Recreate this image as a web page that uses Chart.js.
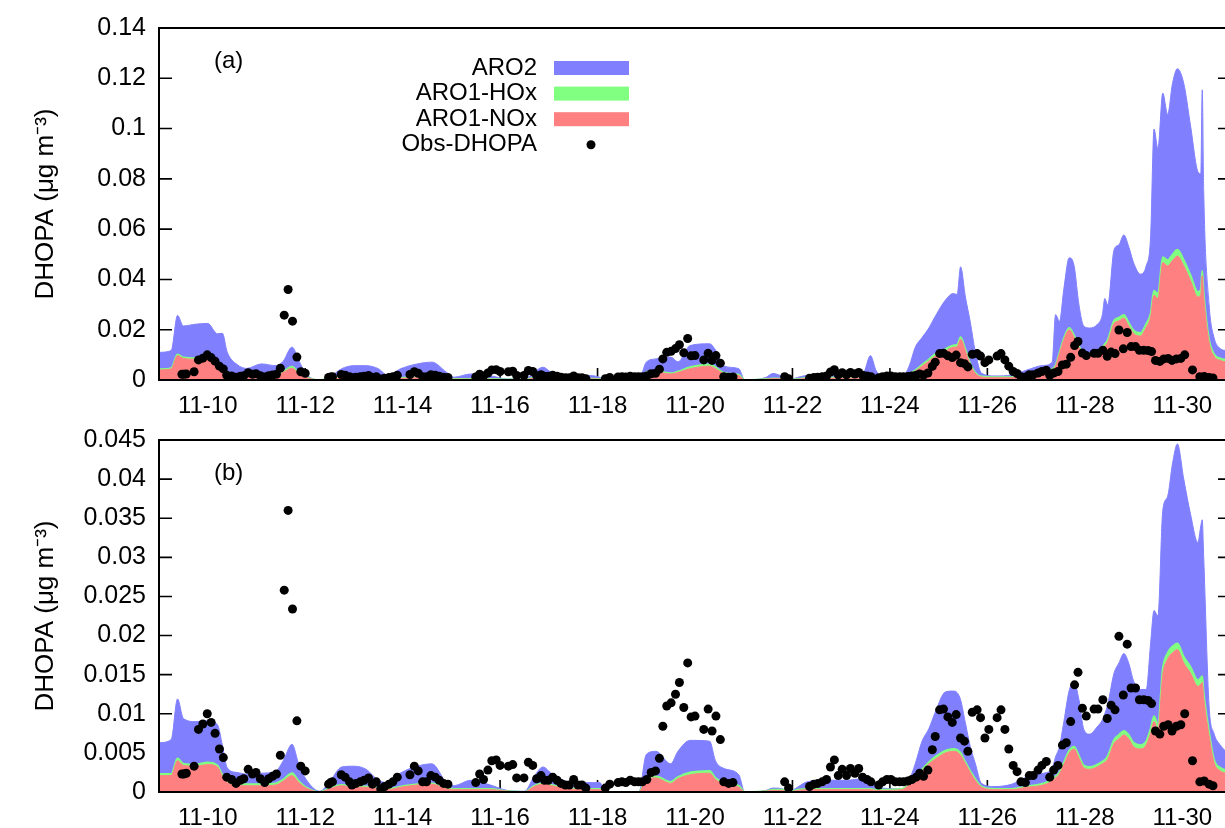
<!DOCTYPE html>
<html><head><meta charset="utf-8">
<script src="https://cdn.jsdelivr.net/npm/chart.js@4.4.1/dist/chart.umd.min.js"></script>
<style>
html,body{margin:0;padding:0;background:#fff;overflow:hidden;width:1225px;height:828px;}
#wrap{position:relative;width:1225px;height:828px;overflow:hidden;background:#fff;}
canvas{position:absolute;left:0;}
#ca{top:0;}
#cb{top:412px;}
</style></head><body>
<div id="wrap"><canvas id="ca" width="1240" height="420"></canvas><canvas id="cb" width="1240" height="416"></canvas></div>
<script>
// time axis: day of November (fractional)
const modelTime = [
 9.0, 9.25, 9.38, 9.5, 9.75, 10.0, 10.2, 10.3, 10.4, 10.6,
 10.8, 11.1, 11.4, 11.55, 11.73, 11.87, 12.02, 12.3, 12.5, 12.75,
 13.0, 13.25, 13.5, 13.7, 13.95, 14.3, 14.6, 14.9, 15.05, 15.4,
 15.8, 16.15, 16.5, 16.7, 16.88, 17.05, 17.4, 17.9, 18.05, 18.15,
 18.85, 19.0, 19.2, 19.5, 19.65, 19.9, 20.3, 20.42, 20.6, 20.9,
 21.02, 21.45, 21.6, 21.8, 21.92, 22.1, 22.3, 22.7, 23.1, 23.45,
 23.6, 23.72, 23.85, 24.25, 24.4, 24.52, 24.66, 24.8, 24.93, 25.14,
 25.3, 25.38, 25.45, 25.55, 25.65, 25.75, 25.88, 26.15, 26.5, 26.8,
 27.15, 27.33, 27.4, 27.48, 27.57, 27.68, 27.78, 27.88, 27.98, 28.1,
 28.25, 28.36, 28.41, 28.47, 28.6, 28.7, 28.8, 28.9, 29.0, 29.14,
 29.26, 29.35, 29.42, 29.5, 29.6, 29.7, 29.8, 29.9, 30.03, 30.17,
 30.32, 30.38, 30.41, 30.44, 30.55, 30.65, 30.78, 30.9, 31.0
];
// panel (a)
const aNOx = [
 0.0040, 0.0044, 0.0097, 0.0086, 0.0083, 0.0095, 0.0072, 0.0050, 0.0032, 0.0017,
 0.0014, 0.0013, 0.0016, 0.0030, 0.0047, 0.0025, 0.0010, 0.0000, 0.0005, 0.0008,
 0.0008, 0.0008, 0.0006, 0.0004, 0.0006, 0.0009, 0.0009, 0.0004, 0.0003, 0.0003,
 0.0003, 0.0001, 0.0001, 0.0008, 0.0012, 0.0010, 0.0006, 0.0004, 0.0003, 0.0000,
 0.0000, 0.0028, 0.0032, 0.0024, 0.0030, 0.0045, 0.0055, 0.0045, 0.0025, 0.0018,
 0.0000, 0.0003, 0.0005, 0.0004, 0.0000, 0.0003, 0.0006, 0.0007, 0.0007, 0.0008,
 0.0017, 0.0007, 0.0004, 0.0006, 0.0022, 0.0035, 0.0055, 0.0075, 0.0095, 0.0115,
 0.0130, 0.0132, 0.0162, 0.0115, 0.0060, 0.0027, 0.0012, 0.0009, 0.0009, 0.0015,
 0.0025, 0.0040, 0.0055, 0.0105, 0.0160, 0.0200, 0.0170, 0.0130, 0.0097, 0.0100,
 0.0108, 0.0122, 0.0135, 0.0150, 0.0225, 0.0235, 0.0246, 0.0215, 0.0185, 0.0175,
 0.0210, 0.0250, 0.0337, 0.0324, 0.0467, 0.0454, 0.0475, 0.0493, 0.0454, 0.0395,
 0.0330, 0.0340, 0.0415, 0.0330, 0.0150, 0.0095, 0.0078, 0.0072, 0.0070
];
const aHOx = [
 0.0003, 0.0003, 0.0005, 0.0004, 0.0004, 0.0005, 0.0004, 0.0003, 0.0002, 0.0002,
 0.0002, 0.0002, 0.0002, 0.0003, 0.0006, 0.0003, 0.0002, 0.0000, 0.0001, 0.0002,
 0.0002, 0.0002, 0.0002, 0.0001, 0.0002, 0.0002, 0.0002, 0.0001, 0.0001, 0.0001,
 0.0001, 0.0001, 0.0001, 0.0002, 0.0002, 0.0002, 0.0001, 0.0001, 0.0001, 0.0000,
 0.0000, 0.0003, 0.0004, 0.0003, 0.0004, 0.0006, 0.0007, 0.0006, 0.0003, 0.0003,
 0.0000, 0.0001, 0.0001, 0.0001, 0.0000, 0.0001, 0.0002, 0.0002, 0.0002, 0.0002,
 0.0003, 0.0002, 0.0001, 0.0001, 0.0003, 0.0004, 0.0006, 0.0007, 0.0008, 0.0008,
 0.0008, 0.0008, 0.0008, 0.0007, 0.0005, 0.0003, 0.0002, 0.0002, 0.0002, 0.0003,
 0.0003, 0.0004, 0.0004, 0.0005, 0.0006, 0.0007, 0.0007, 0.0006, 0.0006, 0.0006,
 0.0007, 0.0008, 0.0008, 0.0009, 0.0012, 0.0013, 0.0013, 0.0013, 0.0012, 0.0012,
 0.0013, 0.0015, 0.0018, 0.0018, 0.0022, 0.0023, 0.0024, 0.0025, 0.0024, 0.0022,
 0.0020, 0.0020, 0.0020, 0.0018, 0.0012, 0.0009, 0.0008, 0.0008, 0.0008
];
const aARO2 = [
 0.0067, 0.0070, 0.0155, 0.0125, 0.0135, 0.0125, 0.0108, 0.0133, 0.0077, 0.0043,
 0.0030, 0.0049, 0.0039, 0.0042, 0.0078, 0.0049, 0.0012, 0.0000, 0.0006, 0.0035,
 0.0047, 0.0047, 0.0037, 0.0013, 0.0036, 0.0053, 0.0060, 0.0026, 0.0007, 0.0020,
 0.0013, 0.0002, 0.0002, 0.0021, 0.0037, 0.0019, 0.0011, 0.0012, 0.0006, 0.0000,
 0.0000, 0.0040, 0.0048, 0.0064, 0.0038, 0.0086, 0.0082, 0.0069, 0.0027, 0.0024,
 0.0000, 0.0006, 0.0020, 0.0008, 0.0000, 0.0006, 0.0011, 0.0015, 0.0019, 0.0018,
 0.0077, 0.0027, 0.0008, 0.0006, 0.0033, 0.0091, 0.0108, 0.0125, 0.0150, 0.0195,
 0.0206, 0.0200, 0.0280, 0.0208, 0.0165, 0.0085, 0.0013, 0.0005, 0.0009, 0.0021,
 0.0030, 0.0027, 0.0201, 0.0123, 0.0197, 0.0279, 0.0277, 0.0162, 0.0111, 0.0101,
 0.0105, 0.0129, 0.0181, 0.0139, 0.0281, 0.0290, 0.0318, 0.0303, 0.0270, 0.0234,
 0.0231, 0.0305, 0.0643, 0.0578, 0.0652, 0.0579, 0.0681, 0.0720, 0.0702, 0.0594,
 0.0479, 0.0460, 0.0719, 0.0402, 0.0138, 0.0066, 0.0039, 0.0037, 0.0037
];
// panel (b)
const bNOx = [
 0.0021, 0.0021, 0.0040, 0.0034, 0.0033, 0.0035, 0.0032, 0.0020, 0.0012, 0.0008,
 0.0008, 0.0008, 0.0009, 0.0014, 0.0021, 0.0012, 0.0005, 0.0000, 0.0004, 0.0008,
 0.0006, 0.0006, 0.0004, 0.0003, 0.0006, 0.0009, 0.0010, 0.0004, 0.0003, 0.0003,
 0.0003, 0.0001, 0.0000, 0.0007, 0.0010, 0.0008, 0.0004, 0.0003, 0.0003, 0.0000,
 0.0000, 0.0016, 0.0018, 0.0011, 0.0017, 0.0022, 0.0024, 0.0016, 0.0010, 0.0006,
 0.0000, 0.0001, 0.0002, 0.0002, 0.0000, 0.0002, 0.0003, 0.0003, 0.0003, 0.0003,
 0.0003, 0.0002, 0.0002, 0.0003, 0.0010, 0.0018, 0.0027, 0.0036, 0.0042, 0.0050,
 0.0052, 0.0051, 0.0047, 0.0036, 0.0025, 0.0015, 0.0006, 0.0003, 0.0003, 0.0006,
 0.0009, 0.0014, 0.0018, 0.0023, 0.0035, 0.0050, 0.0055, 0.0043, 0.0031, 0.0029,
 0.0032, 0.0036, 0.0038, 0.0042, 0.0062, 0.0068, 0.0073, 0.0068, 0.0058, 0.0055,
 0.0060, 0.0075, 0.0090, 0.0080, 0.0150, 0.0170, 0.0178, 0.0182, 0.0165, 0.0152,
 0.0135, 0.0138, 0.0140, 0.0120, 0.0072, 0.0038, 0.0027, 0.0024, 0.0023
];
const bHOx = [
 0.0002, 0.0002, 0.0003, 0.0002, 0.0002, 0.0003, 0.0002, 0.0002, 0.0002, 0.0002,
 0.0002, 0.0002, 0.0002, 0.0002, 0.0003, 0.0002, 0.0001, 0.0000, 0.0001, 0.0001,
 0.0001, 0.0001, 0.0001, 0.0001, 0.0001, 0.0001, 0.0001, 0.0001, 0.0001, 0.0001,
 0.0001, 0.0000, 0.0000, 0.0001, 0.0001, 0.0001, 0.0001, 0.0001, 0.0001, 0.0000,
 0.0000, 0.0002, 0.0002, 0.0002, 0.0002, 0.0003, 0.0003, 0.0002, 0.0002, 0.0002,
 0.0000, 0.0000, 0.0001, 0.0001, 0.0000, 0.0001, 0.0001, 0.0001, 0.0001, 0.0001,
 0.0001, 0.0001, 0.0001, 0.0001, 0.0001, 0.0002, 0.0002, 0.0002, 0.0003, 0.0003,
 0.0003, 0.0003, 0.0003, 0.0002, 0.0002, 0.0002, 0.0001, 0.0001, 0.0001, 0.0001,
 0.0002, 0.0002, 0.0002, 0.0002, 0.0003, 0.0003, 0.0003, 0.0003, 0.0003, 0.0003,
 0.0003, 0.0003, 0.0003, 0.0004, 0.0005, 0.0005, 0.0005, 0.0005, 0.0005, 0.0005,
 0.0005, 0.0006, 0.0007, 0.0007, 0.0008, 0.0008, 0.0008, 0.0008, 0.0008, 0.0008,
 0.0008, 0.0008, 0.0008, 0.0007, 0.0005, 0.0004, 0.0004, 0.0004, 0.0004
];
const bARO2 = [
 0.0040, 0.0044, 0.0076, 0.0058, 0.0055, 0.0053, 0.0052, 0.0038, 0.0017, 0.0015,
 0.0013, 0.0014, 0.0016, 0.0024, 0.0037, 0.0021, 0.0010, 0.0001, 0.0008, 0.0023,
 0.0026, 0.0022, 0.0010, 0.0008, 0.0017, 0.0023, 0.0025, 0.0007, 0.0004, 0.0011,
 0.0005, 0.0001, 0.0001, 0.0012, 0.0021, 0.0015, 0.0008, 0.0008, 0.0008, 0.0000,
 0.0000, 0.0030, 0.0032, 0.0023, 0.0033, 0.0041, 0.0038, 0.0022, 0.0018, 0.0014,
 0.0000, 0.0001, 0.0002, 0.0001, 0.0000, 0.0003, 0.0009, 0.0011, 0.0011, 0.0013,
 0.0010, 0.0007, 0.0002, 0.0000, 0.0005, 0.0016, 0.0036, 0.0043, 0.0057, 0.0075,
 0.0074, 0.0073, 0.0068, 0.0050, 0.0031, 0.0020, 0.0004, 0.0003, 0.0006, 0.0012,
 0.0013, 0.0014, 0.0025, 0.0033, 0.0052, 0.0077, 0.0082, 0.0072, 0.0046, 0.0042,
 0.0048, 0.0053, 0.0059, 0.0066, 0.0085, 0.0092, 0.0099, 0.0092, 0.0079, 0.0071,
 0.0066, 0.0109, 0.0135, 0.0138, 0.0202, 0.0200, 0.0234, 0.0255, 0.0227, 0.0195,
 0.0176, 0.0194, 0.0200, 0.0173, 0.0033, 0.0033, 0.0029, 0.0024, 0.0023
];
// observations (same in both panels)
const obsTime = [
 9.47, 9.51, 9.56, 9.72, 9.81, 9.90, 9.99, 10.07, 10.15, 10.24, 10.32, 10.39, 10.49, 10.58, 10.67, 10.74,
 10.83, 10.92, 10.99, 11.08, 11.17, 11.25, 11.33, 11.41, 11.49, 11.57, 11.65, 11.74, 11.83, 11.91, 12.00,
 12.48, 12.52, 12.56, 12.74, 12.82, 12.91, 12.96, 13.04, 13.13, 13.21, 13.30, 13.38, 13.46, 13.55, 13.63,
 13.72, 13.80, 13.89, 14.15, 14.24, 14.32, 14.41, 14.49, 14.58, 14.67, 14.75, 14.84, 14.93,
 15.50, 15.58, 15.66, 15.75, 15.83, 15.92, 16.00, 16.17, 16.26, 16.34, 16.49, 16.58, 16.67, 16.75, 16.84,
 16.91, 16.99, 17.08, 17.17, 17.25, 17.34, 17.42, 17.51, 17.60, 17.68, 17.76, 18.16, 18.25, 18.42, 18.50,
 18.58, 18.67, 18.76, 18.84, 18.92, 19.01, 19.10, 19.19, 19.27, 19.34, 19.42, 19.51, 19.60, 19.68, 19.77,
 19.85, 19.92, 20.00, 20.18, 20.27, 20.35, 20.43, 20.52, 20.59, 20.69, 20.78, 21.84, 21.92, 22.35, 22.44,
 22.52, 22.61, 22.70, 22.78, 22.86, 22.94, 23.02, 23.11, 23.19, 23.28, 23.36, 23.44, 23.53, 23.61, 23.77,
 23.85, 23.94, 24.02, 24.11, 24.20, 24.28, 24.37, 24.45, 24.54, 24.61, 24.69, 24.78, 24.87, 24.93, 25.02,
 25.10, 25.19, 25.28, 25.36, 25.45, 25.53, 25.60, 25.69, 25.79, 25.86, 25.95, 26.03, 26.20, 26.28, 26.36,
 26.44, 26.53, 26.61, 26.69, 26.78, 26.86, 26.94, 27.04, 27.12, 27.21, 27.28, 27.36, 27.45, 27.54, 27.62,
 27.71, 27.79, 27.86, 27.95, 28.03, 28.19, 28.27, 28.37, 28.46, 28.54, 28.62, 28.70, 28.79, 28.87, 28.95,
 29.04, 29.12, 29.21, 29.30, 29.37, 29.45, 29.54, 29.62, 29.71, 29.79, 29.88, 29.97, 30.05, 30.21, 30.36,
 30.45, 30.55, 30.63
];
const obsValue = [
 0.0023, 0.0023, 0.0024, 0.0033, 0.0080, 0.0087, 0.0100, 0.0089, 0.0075, 0.0055, 0.0044, 0.0019, 0.0016, 0.0011, 0.0015, 0.0017,
 0.0029, 0.0023, 0.0025, 0.0017, 0.0012, 0.0017, 0.0020, 0.0023, 0.0047, 0.0258, 0.0360, 0.0234, 0.0091, 0.0033, 0.0027,
 0.0010, 0.0012, 0.0013, 0.0022, 0.0019, 0.0013, 0.0009, 0.0011, 0.0013, 0.0015, 0.0018, 0.0010, 0.0013, 0.0004, 0.0007,
 0.0010, 0.0013, 0.0019, 0.0022, 0.0033, 0.0027, 0.0013, 0.0013, 0.0021, 0.0019, 0.0015, 0.0011, 0.0010,
 0.0012, 0.0023, 0.0016, 0.0028, 0.0040, 0.0041, 0.0034, 0.0033, 0.0035, 0.0018, 0.0018, 0.0038, 0.0034, 0.0017, 0.0021,
 0.0015, 0.0015, 0.0019, 0.0015, 0.0011, 0.0009, 0.0009, 0.0016, 0.0009, 0.0009, 0.0005, 0.0005, 0.0010, 0.0012, 0.0013,
 0.0012, 0.0015, 0.0013, 0.0013, 0.0013, 0.0016, 0.0025, 0.0027, 0.0043, 0.0084, 0.0110, 0.0114, 0.0125, 0.0140, 0.0108,
 0.0165, 0.0096, 0.0097, 0.0080, 0.0106, 0.0078, 0.0097, 0.0067, 0.0013, 0.0011, 0.0012, 0.0013, 0.0005, 0.0007, 0.0010,
 0.0011, 0.0013, 0.0016, 0.0032, 0.0041, 0.0021, 0.0029, 0.0021, 0.0030, 0.0024, 0.0030, 0.0019, 0.0016, 0.0013, 0.0009,
 0.0013, 0.0016, 0.0016, 0.0013, 0.0013, 0.0013, 0.0014, 0.0016, 0.0019, 0.0024, 0.0020, 0.0028, 0.0054, 0.0071, 0.0105,
 0.0106, 0.0096, 0.0089, 0.0099, 0.0069, 0.0065, 0.0052, 0.0102, 0.0105, 0.0095, 0.0069, 0.0080, 0.0095, 0.0105, 0.0080,
 0.0055, 0.0034, 0.0026, 0.0013, 0.0012, 0.0021, 0.0021, 0.0028, 0.0034, 0.0039, 0.0019, 0.0028, 0.0034, 0.0060, 0.0063,
 0.0090, 0.0137, 0.0153, 0.0107, 0.0097, 0.0106, 0.0106, 0.0118, 0.0094, 0.0111, 0.0105, 0.0199, 0.0124, 0.0189, 0.0133,
 0.0133, 0.0118, 0.0118, 0.0117, 0.0113, 0.0078, 0.0074, 0.0084, 0.0086, 0.0078, 0.0084, 0.0086, 0.0100, 0.0040, 0.0013,
 0.0014, 0.0010, 0.0008
];
const xTickDays = [10, 12, 14, 16, 18, 20, 22, 24, 26, 28, 30];
const xTickLabels = ['11-10', '11-12', '11-14', '11-16', '11-18', '11-20', '11-22', '11-24', '11-26', '11-28', '11-30'];
const yTicksA = [0, 0.02, 0.04, 0.06, 0.08, 0.1, 0.12, 0.14];
const yTicksB = [0, 0.005, 0.01, 0.015, 0.02, 0.025, 0.03, 0.035, 0.04, 0.045];
const seriesNames = ['ARO1-NOx', 'ARO1-HOx', 'ARO2', 'Obs-DHOPA'];
const seriesColors = ['rgb(255,128,128)', 'rgb(128,255,128)', 'rgb(128,128,255)', '#000000'];
const panelLabels = ['(a)', '(b)'];
const yTitle = 'DHOPA (\u03bcg m\u207b\u00b3)';

const FONT = '"Liberation Sans", Arial, Helvetica, sans-serif';
Chart.defaults.font.family = FONT;
Chart.defaults.color = '#000';

const panelPlugin = {
  id: 'panel',
  beforeDatasetsDraw(chart) {
    const {ctx, chartArea: a, scales: {x, y}} = chart;
    ctx.save();
    ctx.strokeStyle = '#000';
    ctx.lineWidth = 1.6;
    ctx.beginPath();
    y.ticks.forEach(t => {
      const py = y.getPixelForValue(t.value);
      ctx.moveTo(a.left, py); ctx.lineTo(a.left + 13, py);
      ctx.moveTo(a.right - 13, py); ctx.lineTo(a.right, py);
    });
    x.ticks.forEach(t => {
      const px = x.getPixelForValue(t.value);
      ctx.moveTo(px, a.bottom); ctx.lineTo(px, a.bottom - 12);
    });
    ctx.stroke();
    ctx.restore();
  },
  afterDatasetsDraw(chart, args, opts) {
    const {ctx, chartArea: a} = chart;
    ctx.save();
    ctx.strokeStyle = '#000';
    ctx.lineWidth = 2;
    ctx.strokeRect(a.left, a.top, a.right - a.left, a.bottom - a.top);
    ctx.fillStyle = '#000';
    ctx.font = '24px ' + FONT;
    ctx.textAlign = 'left';
    ctx.textBaseline = 'middle';
    ctx.fillText(opts.label, 214, a.top + 33);
    if (opts.legend) {
      const order = [2, 1, 0, 3];
      order.forEach((di, k) => {
        const ds = chart.data.datasets[di];
        const cy = 68 + k * 25.6;
        ctx.fillStyle = '#000';
        ctx.textAlign = 'right';
        ctx.fillText(ds.label, 537, cy);
        if (di < 3) {
          ctx.fillStyle = ds.backgroundColor;
          ctx.fillRect(554, cy - 7, 75, 14);
        } else {
          ctx.beginPath();
          ctx.arc(591, cy, 4.5, 0, Math.PI * 2);
          ctx.fill();
        }
      });
    }
    ctx.restore();
  }
};

function makeChart(id, nox, hox, aro2, yTicks, yMax, xAxisH, label, legend) {
  const toXY = arr => modelTime.map((t, i) => ({x: t, y: arr[i]}));
  const area = (name, arr, color, fill, bw) => ({
    label: name, data: toXY(arr), stack: 'model', order: 1,
    backgroundColor: color, borderColor: color, borderWidth: bw,
    fill: fill, pointRadius: 0, cubicInterpolationMode: 'monotone'
  });
  return new Chart(document.getElementById(id), {
    type: 'line',
    data: {
      datasets: [
        area(seriesNames[0], nox, seriesColors[0], 'origin', 1),
        area(seriesNames[1], hox, seriesColors[1], '-1', 1.8),
        area(seriesNames[2], aro2, seriesColors[2], '-1', 1),
        {
          label: seriesNames[3], data: obsTime.map((t, i) => ({x: t, y: obsValue[i]})),
          stack: 'obs', order: 0, showLine: false, fill: false,
          pointRadius: 4.5, pointBackgroundColor: seriesColors[3], pointBorderWidth: 0,
          backgroundColor: seriesColors[3], borderColor: seriesColors[3]
        }
      ]
    },
    options: {
      responsive: false, animation: false, devicePixelRatio: 1, events: [],
      layout: {padding: {top: 20, right: 9, bottom: 0, left: 0}},
      plugins: {legend: {display: false}, tooltip: {enabled: false}, panel: {label: label, legend: legend}},
      scales: {
        x: {
          type: 'linear', min: 9, max: 31,
          grid: {display: false, drawTicks: false}, border: {display: false},
          afterBuildTicks: s => { s.ticks = xTickDays.map(v => ({value: v})); },
          afterFit: s => { s.height = xAxisH; },
          ticks: {
            font: {size: 24}, padding: 12, maxRotation: 0, autoSkip: false, color: '#000',
            callback: v => xTickLabels[xTickDays.indexOf(v)]
          }
        },
        y: {
          type: 'linear', min: 0, max: yMax, stacked: true,
          grid: {display: false, drawTicks: false}, border: {display: false},
          afterBuildTicks: s => { s.ticks = yTicks.map(v => ({value: v})); },
          afterFit: s => { s.width = 159; },
          ticks: {font: {size: 25}, padding: 13, color: '#000', callback: v => String(v)},
          title: {display: true, text: yTitle, font: {size: 26}, padding: {top: 30, bottom: 0}, color: '#000'}
        }
      }
    },
    plugins: [panelPlugin]
  });
}

makeChart('ca', aNOx, aHOx, aARO2, yTicksA, 0.14, 40, panelLabels[0], true);
makeChart('cb', bNOx, bHOx, bARO2, yTicksB, 0.045, 36, panelLabels[1], false);
</script>
</body></html>
